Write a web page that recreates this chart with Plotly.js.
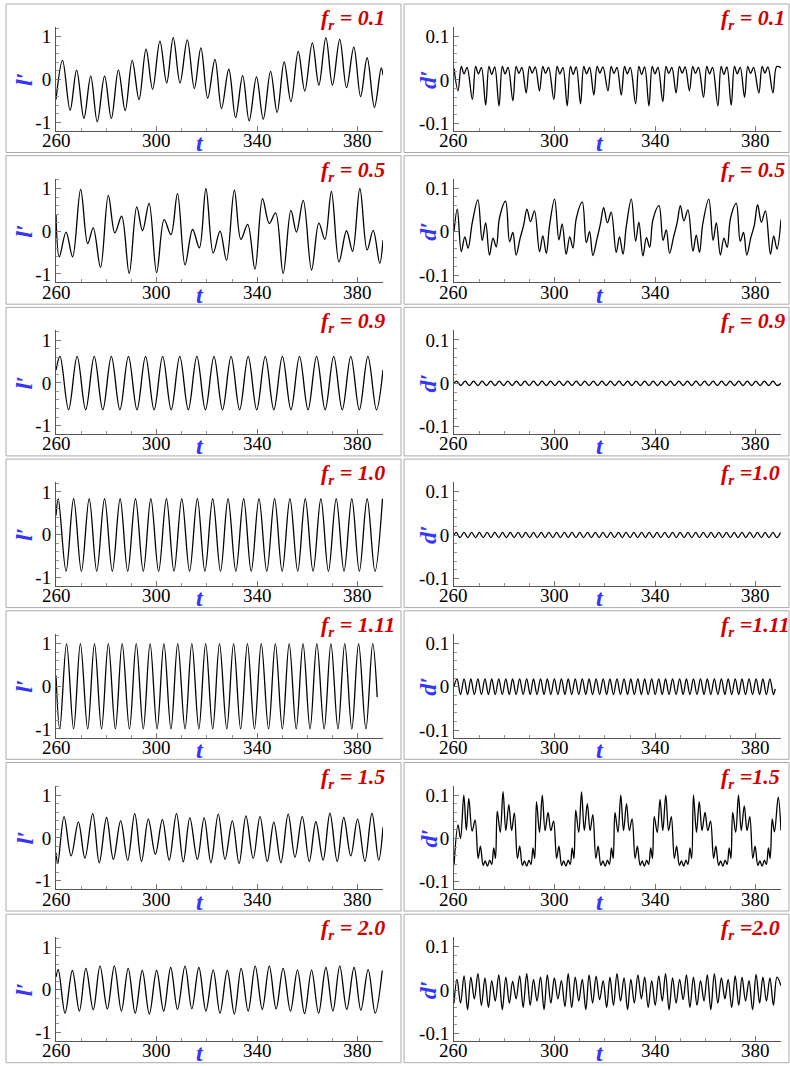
<!DOCTYPE html>
<html><head><meta charset="utf-8">
<script src="https://cdn.plot.ly/plotly-3.0.1.min.js"></script>
<style>html,body{margin:0;padding:0;background:#fff}#chart{width:790px;height:1066px}</style>
</head><body><div id="chart"></div>
<script>
// ---------- tick labels / categories ----------
const tTicks = [260, 300, 340, 380];
const tTickText = ['260', '300', '340', '380'];
const lTicks = [-1, 0, 1];
const lTickText = ['-1', '0', '1'];
const dTicks = [-0.1, 0, 0.1];
const dTickText = ['-0.1', '0', '0.1'];
const frLeft = ['= 0.1', '= 0.5', '= 0.9', '= 1.0', '= 1.11', '= 1.5', '= 2.0'];
const frRight = ['= 0.1', '= 0.5', '= 0.9', '=1.0', '=1.11', '=1.5', '=2.0'];

// ---------- fr = 0.1 ----------
const L1_t = [260.0,262.6,265.6,268.2,271.1,273.8,276.4,279.3,282.0,284.8,287.5,290.3,293.0,295.8,298.4,301.3,304.0,306.6,309.3,312.2,315.0,317.6,320.3,323.2,325.8,328.7,331.4,334.2,336.8,339.7,342.4,345.3,347.9,350.7,353.4,356.3,358.9,361.9,364.5,367.3,369.9,372.8,375.5,378.4,381.1,383.7,386.6,389.3,390.0];
const L1_v = [-0.47,0.45,-0.72,0.22,-0.91,0.08,-0.99,0.08,-0.91,0.22,-0.73,0.45,-0.47,0.71,-0.23,0.90,-0.08,0.98,-0.08,0.93,-0.21,0.74,-0.44,0.47,-0.68,0.24,-0.89,0.09,-0.97,0.06,-0.93,0.19,-0.77,0.41,-0.52,0.66,-0.27,0.86,-0.13,0.98,-0.13,0.94,-0.19,0.76,-0.40,0.51,-0.65,0.27,0.10];
const R1_t = [260.0,261.6,262.9,264.0,265.2,267.3,268.6,269.7,270.9,272.6,273.9,275.0,276.2,277.9,279.2,280.3,281.5,283.4,284.7,285.8,287.0,288.7,290.0,291.1,292.3,294.0,295.3,296.4,297.6,299.7,301.0,302.1,303.3,305.0,306.3,307.4,308.6,310.3,311.6,312.7,313.9,315.6,316.9,318.0,319.2,321.2,322.5,323.6,324.8,326.5,327.8,328.9,330.1,332.2,333.5,334.6,335.8,337.5,338.8,339.9,341.1,343.0,344.3,345.4,346.6,348.3,349.6,350.7,351.9,353.6,354.9,356.0,357.2,359.2,360.5,361.6,362.8,364.9,366.2,367.3,368.5,370.2,371.5,372.6,373.8,375.5,376.8,377.9,379.1,381.2,382.5,383.6,384.8,386.8,388.3,390.0];
const R1_v = [0.027,-0.025,0.031,0.014,0.029,-0.045,0.031,0.014,0.029,-0.058,0.031,0.013,0.030,-0.060,0.031,0.014,0.029,-0.048,0.031,0.015,0.029,-0.030,0.031,0.016,0.030,-0.025,0.031,0.015,0.029,-0.045,0.031,0.014,0.029,-0.060,0.031,0.013,0.030,-0.055,0.031,0.014,0.029,-0.035,0.031,0.016,0.030,-0.025,0.031,0.015,0.029,-0.035,0.031,0.014,0.029,-0.055,0.031,0.013,0.030,-0.060,0.031,0.014,0.029,-0.050,0.031,0.015,0.029,-0.030,0.031,0.016,0.030,-0.025,0.031,0.015,0.029,-0.040,0.031,0.014,0.029,-0.060,0.031,0.013,0.030,-0.058,0.031,0.014,0.029,-0.040,0.031,0.015,0.029,-0.030,0.031,0.016,0.030,-0.030,0.031,0.028];

// ---------- fr = 0.5 ----------
const L2_t = [260.0,261.3,264.0,266.6,269.8,272.6,274.8,277.7,280.8,283.4,286.1,289.1,292.1,294.4,297.0,300.0,303.0,305.7,308.3,311.3,314.3,317.0,319.6,322.5,325.2,327.8,330.9,333.5,336.2,339.1,342.1,344.8,347.3,350.3,353.4,355.6,358.3,361.6,364.5,366.9,369.5,372.5,375.5,377.9,380.8,383.7,386.1,388.7,390.0];
const L2_v = [0.40,-0.60,-0.02,-0.60,0.98,-0.29,0.08,-0.85,0.84,-0.04,0.35,-0.99,0.57,0.01,0.65,-0.97,0.27,-0.08,0.88,-0.79,0.04,-0.39,1.00,-0.51,0.00,-0.68,0.96,-0.19,0.16,-0.89,0.76,0.18,0.43,-0.99,0.49,-0.02,0.72,-0.91,0.19,-0.19,0.93,-0.72,0.01,-0.47,1.00,-0.44,0.02,-0.75,-0.21];
const R2_t = [260.0,261.3,262.9,264.3,265.6,267.3,
 269.5,271.2,272.6,274.1,275.5,276.8,278.1,280.5,282.1,283.4,284.7,286.3,287.7,289.0,290.4,292.0,294.0,295.3,296.7,298.0,
 300.0,301.7,303.0,304.6,306.0,307.3,308.6,311.0,312.6,313.9,315.2,316.8,318.2,319.5,321.0,322.5,324.5,325.8,327.2,328.5,
 330.5,332.2,333.5,335.1,336.5,337.8,339.1,341.5,343.1,344.4,345.7,347.3,348.7,350.0,351.4,353.0,355.0,356.3,357.6,358.9,
 361.3,363.0,364.3,365.9,367.3,368.6,369.9,372.2,373.8,375.1,376.4,378.0,379.4,380.7,382.2,383.8,385.8,387.1,388.4,390.0];
const R2_v = [0.000,0.052,-0.046,-0.012,-0.038,0.022,
 0.073,-0.020,0.020,-0.054,-0.015,-0.035,0.032,0.070,-0.023,-0.002,-0.054,-0.015,0.015,0.052,0.023,0.048,-0.046,-0.010,-0.050,0.015,
 0.075,-0.019,0.018,-0.052,-0.012,-0.038,0.030,0.068,-0.025,0.000,-0.055,-0.018,0.018,0.055,0.020,0.045,-0.048,-0.012,-0.052,0.012,
 0.075,-0.022,0.022,-0.056,-0.014,-0.036,0.028,0.060,-0.020,0.004,-0.050,-0.012,0.020,0.060,0.025,0.050,-0.045,-0.008,-0.048,0.018,
 0.075,-0.020,0.020,-0.054,-0.015,-0.036,0.030,0.065,-0.022,-0.002,-0.054,-0.014,0.015,0.062,0.022,0.048,-0.052,-0.010,-0.040,0.028];

// ---------- fr = 0.9 ----------
const L3_peakT = [261.6,268.4,275.2,282.0,288.8,295.6,302.4,309.2,316.0,322.8,329.6,336.4,343.2,350.0,356.8,363.6,370.4,377.2,384.0];
const L3_peakV = [0.62,0.62,0.62,0.62,0.62,0.62,0.62,0.62,0.62,0.62,0.62,0.62,0.62,0.62,0.62,0.62,0.62,0.62,0.62];
const L3_troughT = [265.0,271.8,278.6,285.4,292.2,299.0,305.8,312.6,319.4,326.2,333.0,339.8,346.6,353.4,360.2,367.0,373.8,380.6,387.4];
const L3_troughV = [-0.63,-0.63,-0.63,-0.63,-0.63,-0.63,-0.63,-0.63,-0.63,-0.63,-0.63,-0.63,-0.63,-0.63,-0.63,-0.63,-0.63,-0.63,-0.63];
const L3_ends = [[260.0, 0.30], [390.0, 0.30]];
const R3_peakT = [261.0,264.4,267.8,271.2,274.6,278.0,281.4,284.8,288.2,291.6,295.0,298.4,301.8,305.2,308.6,312.0,315.4,318.8,322.2,325.6,329.0,332.4,335.8,339.2,342.6,346.0,349.4,352.8,356.2,359.6,363.0,366.4,369.8,373.2,376.6,380.0,383.4,386.8];
const R3_peakV = [0.005,0.005,0.005,0.005,0.005,0.005,0.005,0.005,0.005,0.005,0.005,0.005,0.005,0.005,0.005,0.005,0.005,0.005,0.005,0.005,0.005,0.005,0.005,0.005,0.005,0.005,0.005,0.005,0.005,0.005,0.005,0.005,0.005,0.005,0.005,0.005,0.005,0.005];
const R3_troughT = [262.7,266.1,269.5,272.9,276.3,279.7,283.1,286.5,289.9,293.3,296.7,300.1,303.5,306.9,310.3,313.7,317.1,320.5,323.9,327.3,330.7,334.1,337.5,340.9,344.3,347.7,351.1,354.5,357.9,361.3,364.7,368.1,371.5,374.9,378.3,381.7,385.1,388.5];
const R3_troughV = [-0.005,-0.005,-0.005,-0.005,-0.005,-0.005,-0.005,-0.005,-0.005,-0.005,-0.005,-0.005,-0.005,-0.005,-0.005,-0.005,-0.005,-0.005,-0.005,-0.005,-0.005,-0.005,-0.005,-0.005,-0.005,-0.005,-0.005,-0.005,-0.005,-0.005,-0.005,-0.005,-0.005,-0.005,-0.005,-0.005,-0.005,-0.005];
const R3_ends = [[260.0, 0.0], [390.0, 0.0]];

// ---------- fr = 1.0 ----------
const L4_peakT = [260.9,267.0,273.2,279.3,285.5,291.6,297.7,303.9,310.0,316.2,322.3,328.4,334.6,340.7,346.9,353.0,359.1,365.3,371.4,377.6,383.7,389.8];
const L4_peakV = [0.84,0.84,0.84,0.84,0.84,0.84,0.84,0.84,0.84,0.84,0.84,0.84,0.84,0.84,0.84,0.84,0.84,0.84,0.84,0.84,0.84,0.84];
const L4_troughT = [264.0,270.1,276.2,282.4,288.5,294.7,300.8,306.9,313.1,319.2,325.4,331.5,337.6,343.8,349.9,356.1,362.2,368.3,374.5,380.6,386.8];
const L4_troughV = [-0.86,-0.86,-0.86,-0.86,-0.86,-0.86,-0.86,-0.86,-0.86,-0.86,-0.86,-0.86,-0.86,-0.86,-0.86,-0.86,-0.86,-0.86,-0.86,-0.86,-0.86];
const L4_ends = [[260.0, 0.45], null];
const R4_peakT = [260.9,264.0,267.0,270.1,273.2,276.2,279.3,282.4,285.5,288.5,291.6,294.7,297.7,300.8,303.9,306.9,310.0,313.1,316.2,319.2,322.3,325.4,328.4,331.5,334.6,337.6,340.7,343.8,346.9,349.9,353.0,356.1,359.1,362.2,365.3,368.3,371.4,374.5,377.6,380.6,383.7,386.8,389.8];
const R4_peakV = [0.006,0.006,0.006,0.006,0.006,0.006,0.006,0.006,0.006,0.006,0.006,0.006,0.006,0.006,0.006,0.006,0.006,0.006,0.006,0.006,0.006,0.006,0.006,0.006,0.006,0.006,0.006,0.006,0.006,0.006,0.006,0.006,0.006,0.006,0.006,0.006,0.006,0.006,0.006,0.006,0.006,0.006,0.006];
const R4_troughT = [262.4,265.5,268.6,271.6,274.7,277.8,280.8,283.9,287.0,290.1,293.1,296.2,299.3,302.3,305.4,308.5,311.5,314.6,317.7,320.8,323.8,326.9,330.0,333.0,336.1,339.2,342.2,345.3,348.4,351.5,354.5,357.6,360.7,363.7,366.8,369.9,372.9,376.0,379.1,382.2,385.2,388.3];
const R4_troughV = [-0.006,-0.006,-0.006,-0.006,-0.006,-0.006,-0.006,-0.006,-0.006,-0.006,-0.006,-0.006,-0.006,-0.006,-0.006,-0.006,-0.006,-0.006,-0.006,-0.006,-0.006,-0.006,-0.006,-0.006,-0.006,-0.006,-0.006,-0.006,-0.006,-0.006,-0.006,-0.006,-0.006,-0.006,-0.006,-0.006,-0.006,-0.006,-0.006,-0.006,-0.006,-0.006];
const R4_ends = [[260.0, 0.0], null];

// ---------- fr = 1.11 ----------
const L5_peakT = [264.2,269.7,275.3,280.8,286.3,291.9,297.4,302.9,308.4,314.0,319.5,325.0,330.6,336.1,341.6,347.2,352.7,358.2,363.7,369.3,374.8,380.3,385.9];
const L5_peakV = [1.0,1.0,1.0,1.0,1.0,1.0,1.0,1.0,1.0,1.0,1.0,1.0,1.0,1.0,1.0,1.0,1.0,1.0,1.0,1.0,1.0,1.0,1.0];
const L5_troughT = [261.5,267.0,272.6,278.1,283.6,289.2,294.7,300.2,305.7,311.3,316.8,322.3,327.9,333.4,338.9,344.5,350.0,355.5,361.0,366.6,372.1,377.6,383.2];
const L5_troughV = [-1.0,-1.0,-1.0,-1.0,-1.0,-1.0,-1.0,-1.0,-1.0,-1.0,-1.0,-1.0,-1.0,-1.0,-1.0,-1.0,-1.0,-1.0,-1.0,-1.0,-1.0,-1.0,-1.0];
const L5_ends = [[260.0, 0.25], [387.7, -0.25]];
const R5_peakT = [261.2,264.0,266.7,269.5,272.3,275.0,277.8,280.6,283.3,286.1,288.9,291.6,294.4,297.1,299.9,302.7,305.4,308.2,311.0,313.7,316.5,319.3,322.0,324.8,327.6,330.3,333.1,335.8,338.6,341.4,344.1,346.9,349.7,352.4,355.2,358.0,360.7,363.5,366.3,369.0,371.8,374.5,377.3,380.1,382.8,385.6];
const R5_peakV = [0.018,0.018,0.018,0.018,0.018,0.018,0.018,0.018,0.018,0.018,0.018,0.018,0.018,0.018,0.018,0.018,0.018,0.018,0.018,0.018,0.018,0.018,0.018,0.018,0.018,0.018,0.018,0.018,0.018,0.018,0.018,0.018,0.018,0.018,0.018,0.018,0.018,0.018,0.018,0.018,0.018,0.018,0.018,0.018,0.018,0.018];
const R5_troughT = [262.6,265.4,268.1,270.9,273.7,276.4,279.2,282.0,284.7,287.5,290.3,293.0,295.8,298.5,301.3,304.1,306.8,309.6,312.4,315.1,317.9,320.7,323.4,326.2,329.0,331.7,334.5,337.2,340.0,342.8,345.5,348.3,351.1,353.8,356.6,359.4,362.1,364.9,367.7,370.4,373.2,375.9,378.7,381.5,384.2,387.0];
const R5_troughV = [-0.018,-0.018,-0.018,-0.018,-0.018,-0.018,-0.018,-0.018,-0.018,-0.018,-0.018,-0.018,-0.018,-0.018,-0.018,-0.018,-0.018,-0.018,-0.018,-0.018,-0.018,-0.018,-0.018,-0.018,-0.018,-0.018,-0.018,-0.018,-0.018,-0.018,-0.018,-0.018,-0.018,-0.018,-0.018,-0.018,-0.018,-0.018,-0.018,-0.018,-0.018,-0.018,-0.018,-0.018,-0.018,-0.018];
const R5_ends = [[260.0, 0.0], [387.7, -0.005]];

// ---------- fr = 1.5 ----------
const L6_peakT = [263.2,268.9,274.6,280.1,285.7,291.3,296.7,302.3,307.9,313.2,318.9,324.5,330.1,335.5,341.1,346.6,352.3,357.9,363.3,368.9,374.4,379.9,385.6];
const L6_peakV = [0.50,0.37,0.57,0.48,0.40,0.57,0.44,0.43,0.57,0.47,0.47,0.56,0.40,0.52,0.50,0.37,0.56,0.50,0.38,0.58,0.48,0.44,0.58];
const L6_troughT = [260.7,266.0,271.5,277.2,282.8,288.5,294.0,299.5,305.0,310.6,316.2,321.6,327.2,332.8,338.4,344.0,349.4,355.0,360.7,366.2,371.8,377.2,382.8,388.3];
const L6_troughV = [-0.60,-0.42,-0.47,-0.58,-0.50,-0.52,-0.55,-0.38,-0.52,-0.56,-0.50,-0.58,-0.50,-0.60,-0.48,-0.55,-0.58,-0.45,-0.55,-0.52,-0.55,-0.42,-0.55,-0.52];
const L6_ends = [[260.0, -0.35], [390.0, 0.25]];
const R6_t = [260.0,261.6,262.6,263.9,264.9,265.9,267.2,268.4,269.6,270.5,271.6,272.4,273.3,274.2,275.0,275.8,276.5,
 277.2,278.4,279.5,280.6,281.8,282.9,284.0,285.2,286.1,287.2,288.0,288.9,289.8,290.6,291.4,292.1,
 292.8,294.0,295.1,296.2,297.4,298.5,299.6,300.8,301.7,302.8,303.6,304.5,305.4,306.2,307.0,307.7,
 308.4,309.6,310.7,311.8,313.0,314.1,315.2,316.4,317.3,318.4,319.2,320.1,321.0,321.8,322.6,323.3,
 324.0,325.2,326.3,327.4,328.6,329.7,330.8,332.0,332.9,334.0,334.8,335.7,336.6,337.4,338.2,338.9,
 339.6,340.8,341.9,343.0,344.2,345.3,346.4,347.6,348.5,349.6,350.4,351.3,352.2,353.0,353.8,354.5,
 355.2,356.4,357.5,358.6,359.8,360.9,362.0,363.2,364.1,365.2,366.0,366.9,367.8,368.6,369.4,370.1,
 370.8,372.0,373.1,374.2,375.4,376.5,377.6,378.8,379.7,380.8,381.6,382.5,383.4,384.2,385.0,385.7,
 386.5,387.4,388.9,390.0];
const R6_v = [-0.062,0.031,0.000,0.100,0.019,0.092,0.017,0.042,-0.046,-0.018,-0.062,-0.052,-0.064,-0.050,-0.060,-0.022,-0.046,
 0.063,0.014,0.108,0.018,0.078,0.018,0.059,-0.046,-0.018,-0.062,-0.052,-0.064,-0.050,-0.060,-0.022,-0.046,
 0.085,0.014,0.100,0.018,0.060,0.018,0.040,-0.046,-0.018,-0.062,-0.052,-0.064,-0.050,-0.060,-0.022,-0.046,
 0.065,0.014,0.107,0.018,0.080,0.018,0.055,-0.046,-0.018,-0.062,-0.052,-0.064,-0.050,-0.060,-0.022,-0.046,
 0.060,0.014,0.100,0.018,0.080,0.018,0.045,-0.046,-0.018,-0.062,-0.052,-0.064,-0.050,-0.060,-0.022,-0.046,
 0.050,0.014,0.090,0.018,0.100,0.018,0.050,-0.046,-0.018,-0.062,-0.052,-0.064,-0.050,-0.060,-0.022,-0.046,
 0.100,0.014,0.085,0.018,0.060,0.018,0.040,-0.046,-0.018,-0.062,-0.052,-0.064,-0.050,-0.060,-0.022,-0.046,
 0.060,0.014,0.100,0.018,0.075,0.018,0.050,-0.046,-0.018,-0.062,-0.052,-0.064,-0.050,-0.060,-0.022,-0.046,
 0.045,0.015,0.095,0.018];

// ---------- fr = 2.0 ----------
const L7_peakT = [260.9,266.5,271.9,277.5,283.2,288.7,294.3,300.0,305.6,311.3,316.8,322.5,328.1,333.6,339.2,344.8,350.3,356.0,361.6,367.3,372.8,378.5,384.1,389.7];
const L7_peakV = [0.47,0.45,0.50,0.55,0.55,0.50,0.45,0.45,0.52,0.55,0.52,0.46,0.45,0.50,0.55,0.55,0.50,0.46,0.46,0.52,0.55,0.52,0.47,0.45];
const L7_troughT = [263.6,269.3,274.8,280.4,286.0,291.5,297.1,302.8,308.3,314.0,319.6,325.2,330.9,336.4,342.0,347.5,353.2,358.8,364.4,370.1,375.6,381.2,386.9];
const L7_troughV = [-0.55,-0.50,-0.47,-0.45,-0.50,-0.55,-0.57,-0.50,-0.46,-0.45,-0.50,-0.55,-0.57,-0.50,-0.46,-0.45,-0.50,-0.56,-0.55,-0.50,-0.46,-0.48,-0.55];
const L7_ends = [[260.0, 0.30], null];
const R7_peakT = [261.2,264.0,266.7,269.5,272.3,275.0,277.8,280.6,283.3,286.1,288.9,291.6,294.4,297.1,299.9,302.7,305.4,308.2,311.0,313.7,316.5,319.3,322.0,324.8,327.6,330.3,333.1,335.8,338.6,341.4,344.1,346.9,349.7,352.4,355.2,358.0,360.7,363.5,366.3,369.0,371.8,374.5,377.3,380.1,382.8,385.6,388.4];
const R7_peakV = [0.025,0.033,0.030,0.038,0.028,0.022,0.035,0.030,0.020,0.033,0.038,0.025,0.030,0.035,0.028,0.022,0.038,0.030,0.025,0.035,0.032,0.022,0.030,0.038,0.028,0.025,0.035,0.030,0.022,0.033,0.038,0.028,0.025,0.035,0.030,0.022,0.035,0.038,0.028,0.025,0.033,0.030,0.022,0.036,0.030,0.028,0.030];
const R7_troughT = [262.6,265.4,268.1,270.9,273.7,276.4,279.2,282.0,284.7,287.5,290.3,293.0,295.8,298.5,301.3,304.1,306.8,309.6,312.4,315.1,317.9,320.7,323.4,326.2,329.0,331.7,334.5,337.2,340.0,342.8,345.5,348.3,351.1,353.8,356.6,359.4,362.1,364.9,367.7,370.4,373.2,375.9,378.7,381.5,384.2,387.0];
const R7_troughV = [-0.030,-0.045,-0.020,-0.035,-0.040,-0.025,-0.045,-0.030,-0.020,-0.040,-0.035,-0.025,-0.045,-0.030,-0.020,-0.038,-0.040,-0.025,-0.045,-0.030,-0.022,-0.040,-0.035,-0.025,-0.045,-0.030,-0.020,-0.040,-0.035,-0.025,-0.045,-0.030,-0.022,-0.040,-0.035,-0.025,-0.045,-0.030,-0.020,-0.040,-0.035,-0.025,-0.045,-0.030,-0.025,-0.035];
const R7_ends = [[260.0, -0.030], [390.0, 0.010]];

// ---------- assembling ----------
function merge(pT, pV, tT, tV, ends) {
  const pts = [];
  if (ends && ends[0]) pts.push(ends[0]);
  for (let i = 0; i < Math.min(pT.length, pV.length); i++) pts.push([pT[i], pV[i]]);
  for (let i = 0; i < Math.min(tT.length, tV.length); i++) pts.push([tT[i], tV[i]]);
  if (ends && ends[1]) pts.push(ends[1]);
  pts.sort((a, b) => a[0] - b[0]);
  return {t: pts.map(p => p[0]), v: pts.map(p => p[1])};
}
function pair(t, v) { const n = Math.min(t.length, v.length); return {t: t.slice(0, n), v: v.slice(0, n)}; }

const series = [
  [pair(L1_t, L1_v), pair(R1_t, R1_v)],
  [pair(L2_t, L2_v), pair(R2_t, R2_v)],
  [merge(L3_peakT, L3_peakV, L3_troughT, L3_troughV, L3_ends), merge(R3_peakT, R3_peakV, R3_troughT, R3_troughV, R3_ends)],
  [merge(L4_peakT, L4_peakV, L4_troughT, L4_troughV, L4_ends), merge(R4_peakT, R4_peakV, R4_troughT, R4_troughV, R4_ends)],
  [merge(L5_peakT, L5_peakV, L5_troughT, L5_troughV, L5_ends), merge(R5_peakT, R5_peakV, R5_troughT, R5_troughV, R5_ends)],
  [merge(L6_peakT, L6_peakV, L6_troughT, L6_troughV, L6_ends), pair(R6_t, R6_v)],
  [merge(L7_peakT, L7_peakV, L7_troughT, L7_troughV, L7_ends), merge(R7_peakT, R7_peakV, R7_troughT, R7_troughV, R7_ends)]
];

const W = 790, H = 1066, PITCH = 151.7;
const px = x => x / W, py = y => 1 - y / H;
const serif = 'Liberation Serif';
const blue = '#3535ff', red = '#d40000';

const layout = {
  width: W, height: H, margin: {l: 0, r: 0, t: 0, b: 0},
  paper_bgcolor: '#fff', plot_bgcolor: '#fff', showlegend: false,
  font: {family: serif},
  shapes: [], annotations: []
};
const data = [];
let n = 0;
for (let r = 0; r < 7; r++) {
  for (let c = 0; c < 2; c++) {
    n++;
    const sfx = n === 1 ? '' : String(n);
    const s = series[r][c];
    data.push({
      x: s.t, y: s.v, type: 'scatter', mode: 'lines',
      line: {color: '#000', width: 1.3, shape: 'spline', smoothing: 1},
      xaxis: 'x' + sfx, yaxis: 'y' + sfx, hoverinfo: 'skip'
    });
    const x0 = c ? 454 : 56, x1 = c ? 781 : 383;
    const yTop = 27 + PITCH * r, yBot = 130.7 + PITCH * r;
    layout['xaxis' + sfx] = {
      domain: [px(x0), px(x1)], anchor: 'y' + sfx, range: [260, 390],
      tickmode: 'array', tickvals: tTicks, showticklabels: false,
      ticks: 'inside', ticklen: 5, tickwidth: 1, tickcolor: '#777',
      minor: {tickmode: 'linear', tick0: 260, dtick: 10, ticks: 'inside', ticklen: 3, tickcolor: '#999', showgrid: false},
      showline: true, linecolor: '#555', linewidth: 1, showgrid: false, zeroline: false,
      fixedrange: true
    };
    layout['yaxis' + sfx] = {
      domain: [py(yBot), py(yTop)], anchor: 'x' + sfx,
      range: c ? [-0.117, 0.122] : [-1.2, 1.23],
      tickmode: 'array', tickvals: c ? dTicks : lTicks, ticktext: c ? dTickText : lTickText,
      ticks: 'inside', ticklen: 5, tickwidth: 1, tickcolor: '#777',
      minor: {tickmode: 'linear', tick0: 0, dtick: c ? 0.02 : 0.2, ticks: 'inside', ticklen: 3, tickcolor: '#999', showgrid: false},
      showline: true, linecolor: '#555', linewidth: 1, showgrid: false, zeroline: false,
      tickfont: {family: serif, size: 19, color: '#000'}, fixedrange: true
    };
    for (let k = 0; k < tTicks.length; k++) {
      layout.annotations.push({xref: 'x' + sfx, yref: 'paper', x: tTicks[k], y: py(140.5 + PITCH * r),
        xanchor: 'center', yanchor: 'middle', showarrow: false, text: tTickText[k],
        font: {family: serif, size: 19, color: '#000'}});
    }
    layout.shapes.push({type: 'rect', xref: 'paper', yref: 'paper',
      x0: px(c ? 404 : 6), x1: px(c ? 789 : 401),
      y0: py(152.5 + PITCH * r), y1: py(4 + PITCH * r),
      line: {color: '#aaaaaa', width: 1}, fillcolor: 'rgba(0,0,0,0)'});
    layout.annotations.push({xref: 'paper', yref: 'paper', x: px(c ? 719 : 319), y: py(19 + PITCH * r),
      xanchor: 'left', yanchor: 'middle', showarrow: false,
      text: '<b><i>f<sub>r</sub> ' + (c ? frRight[r] : frLeft[r]) + '</i></b>',
      font: {family: serif, size: 22, color: red}});
    layout.annotations.push({xref: 'paper', yref: 'paper', x: px(c ? 428 : 24), y: py(80 + PITCH * r),
      xanchor: 'center', yanchor: 'middle', showarrow: false, textangle: -90,
      text: '<b><i>' + (c ? 'd′' : 'l′') + '</i></b>',
      font: {family: serif, size: 24, color: blue}});
    layout.annotations.push({xref: 'paper', yref: 'paper', x: px(c ? 600 : 200), y: py(143 + PITCH * r),
      xanchor: 'center', yanchor: 'middle', showarrow: false, text: '<b><i>t</i></b>',
      font: {family: serif, size: 24, color: blue}});
  }
}
Plotly.newPlot('chart', data, layout, {staticPlot: true, displayModeBar: false});
</script>
</body></html>
